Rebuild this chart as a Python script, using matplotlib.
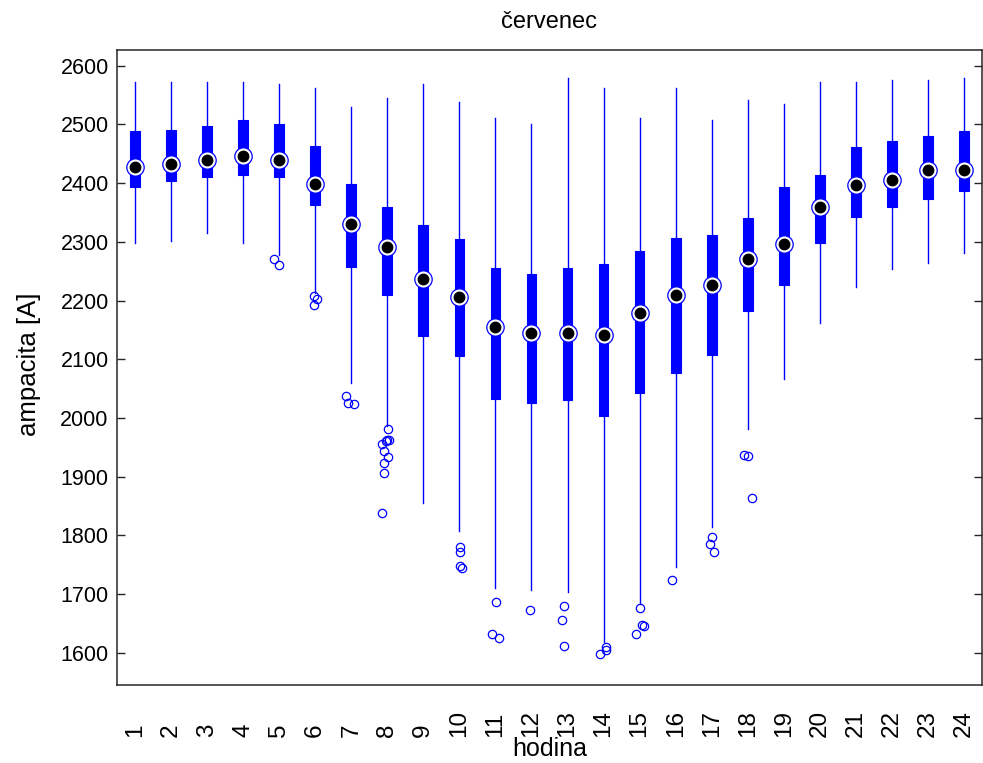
import matplotlib
matplotlib.use("Agg")
import matplotlib.pyplot as plt
from matplotlib.transforms import blended_transform_factory

plt.rcParams['font.family'] = ['Liberation Sans', 'DejaVu Sans']

# hourly ampacity distribution, July
hours = [str(h) for h in range(1, 25)]
whisker_hi = [2572, 2572, 2572, 2572, 2569, 2562, 2529, 2545, 2569, 2538, 2511, 2501,
              2579, 2562, 2511, 2562, 2508, 2542, 2535, 2573, 2573, 2576, 2576, 2579]
q3 = [2488, 2491, 2498, 2508, 2501, 2464, 2399, 2359, 2328, 2304, 2256, 2246,
      2256, 2263, 2284, 2307, 2311, 2341, 2393, 2413, 2461, 2471, 2481, 2488]
median = [2427, 2433, 2440, 2447, 2440, 2399, 2331, 2291, 2236, 2206, 2155, 2144,
          2144, 2141, 2178, 2209, 2226, 2270, 2297, 2359, 2396, 2406, 2423, 2423]
q1 = [2394, 2403, 2410, 2413, 2410, 2363, 2257, 2210, 2139, 2105, 2033, 2026,
      2030, 2003, 2043, 2077, 2108, 2183, 2227, 2298, 2342, 2360, 2373, 2386]
whisker_lo = [2298, 2301, 2315, 2298, 2277, 2213, 2060, 1987, 1856, 1808, 1710, 1707,
              1704, 1618, 1683, 1747, 1815, 1982, 2067, 2162, 2223, 2254, 2264, 2281]
outliers = [
    [], [], [], [],
    [2271, 2260],
    [2208, 2203, 2192],
    [2038, 2026, 2023],
    [1982, 1962, 1962, 1955, 1960, 1944, 1934, 1924, 1907, 1839],
    [],
    [1781, 1771, 1748, 1744],
    [1686, 1632, 1625],
    [1673],
    [1679, 1656, 1611],
    [1598, 1610, 1605],
    [1676, 1648, 1645, 1632],
    [1724],
    [1798, 1785, 1771],
    [1937, 1935, 1863],
    [], [], [], [], [], [],
]
# horizontal scatter of the outlier circles around each box
outlier_jitter = [
    [], [], [], [],
    [-0.14, 0.0],
    [-0.04, 0.04, -0.04],
    [-0.15, -0.09, 0.08],
    [0.02, 0.0, 0.04, -0.15, -0.05, -0.09, 0.02, -0.09, -0.09, -0.14],
    [],
    [0.01, 0.01, 0.01, 0.08],
    [0.02, -0.09, 0.09],
    [-0.04],
    [-0.09, -0.15, -0.09],
    [-0.10, 0.07, 0.08],
    [0.01, 0.06, 0.12, -0.10],
    [-0.09],
    [0.0, -0.05, 0.06],
    [-0.10, 0.02, 0.12],
    [], [], [], [], [], [],
]

BLUE = (0, 0, 1)
AX_COL = '#262626'

fig = plt.figure(figsize=(9.83, 7.63), dpi=100)
ax = fig.add_axes([117 / 983, (763 - 685) / 763, 865 / 983, 635 / 763])

positions = list(range(1, len(hours) + 1))
stats = []
for i in range(len(hours)):
    stats.append(dict(med=median[i], q1=q1[i], q3=q3[i],
                      whislo=whisker_lo[i], whishi=whisker_hi[i], fliers=[]))

ax.bxp(stats, positions=positions, widths=0.27, patch_artist=True,
       showcaps=False, showfliers=False,
       boxprops=dict(facecolor=BLUE, edgecolor=BLUE, linewidth=0.8),
       whiskerprops=dict(color=BLUE, linewidth=1.0),
       medianprops=dict(linewidth=0))

# outliers
for p, vals, jit in zip(positions, outliers, outlier_jitter):
    if vals:
        ax.plot([p + j for j in jit], vals, 'o', ms=6, mfc='none', mec=BLUE,
                mew=0.9, zorder=4)

# median markers
ax.plot(positions, median, 'o', ms=12.5, mfc='white', mec=BLUE, mew=0.9, zorder=5)
ax.plot(positions, median, 'o', ms=7.5, color='black', mec='black', zorder=6)

ax.set_xlim(0.5, 24.5)
ax.set_ylim(1545.3, 2626.7)
ax.set_yticks(range(1600, 2601, 100))
ax.set_xticks([])
ax.tick_params(axis='y', direction='in', length=6, width=1.0, color=AX_COL,
               labelsize=15.5, pad=6, right=True, labelcolor='black')
for s in ax.spines.values():
    s.set_color(AX_COL)
    s.set_linewidth(1.1)

# hour labels, rotated and anchored at their start
tr = blended_transform_factory(ax.transData, fig.transFigure)
for p, lab in zip(positions, hours):
    ax.text(p, (763 - 737) / 763, lab, transform=tr, rotation=90,
            ha='center', va='bottom', fontsize=17.5, color='black')

fig.text(0.5 * (117 + 982) / 983, (763 - 749) / 763, 'hodina', ha='center',
         va='center', fontsize=18)
fig.text(29 / 983, (763 - 364) / 763, 'ampacita [A]', rotation=90, ha='center',
         va='center', fontsize=18.5)
ax.set_title('červenec', fontsize=17, pad=16)

fig.savefig('out.png', dpi=100)
